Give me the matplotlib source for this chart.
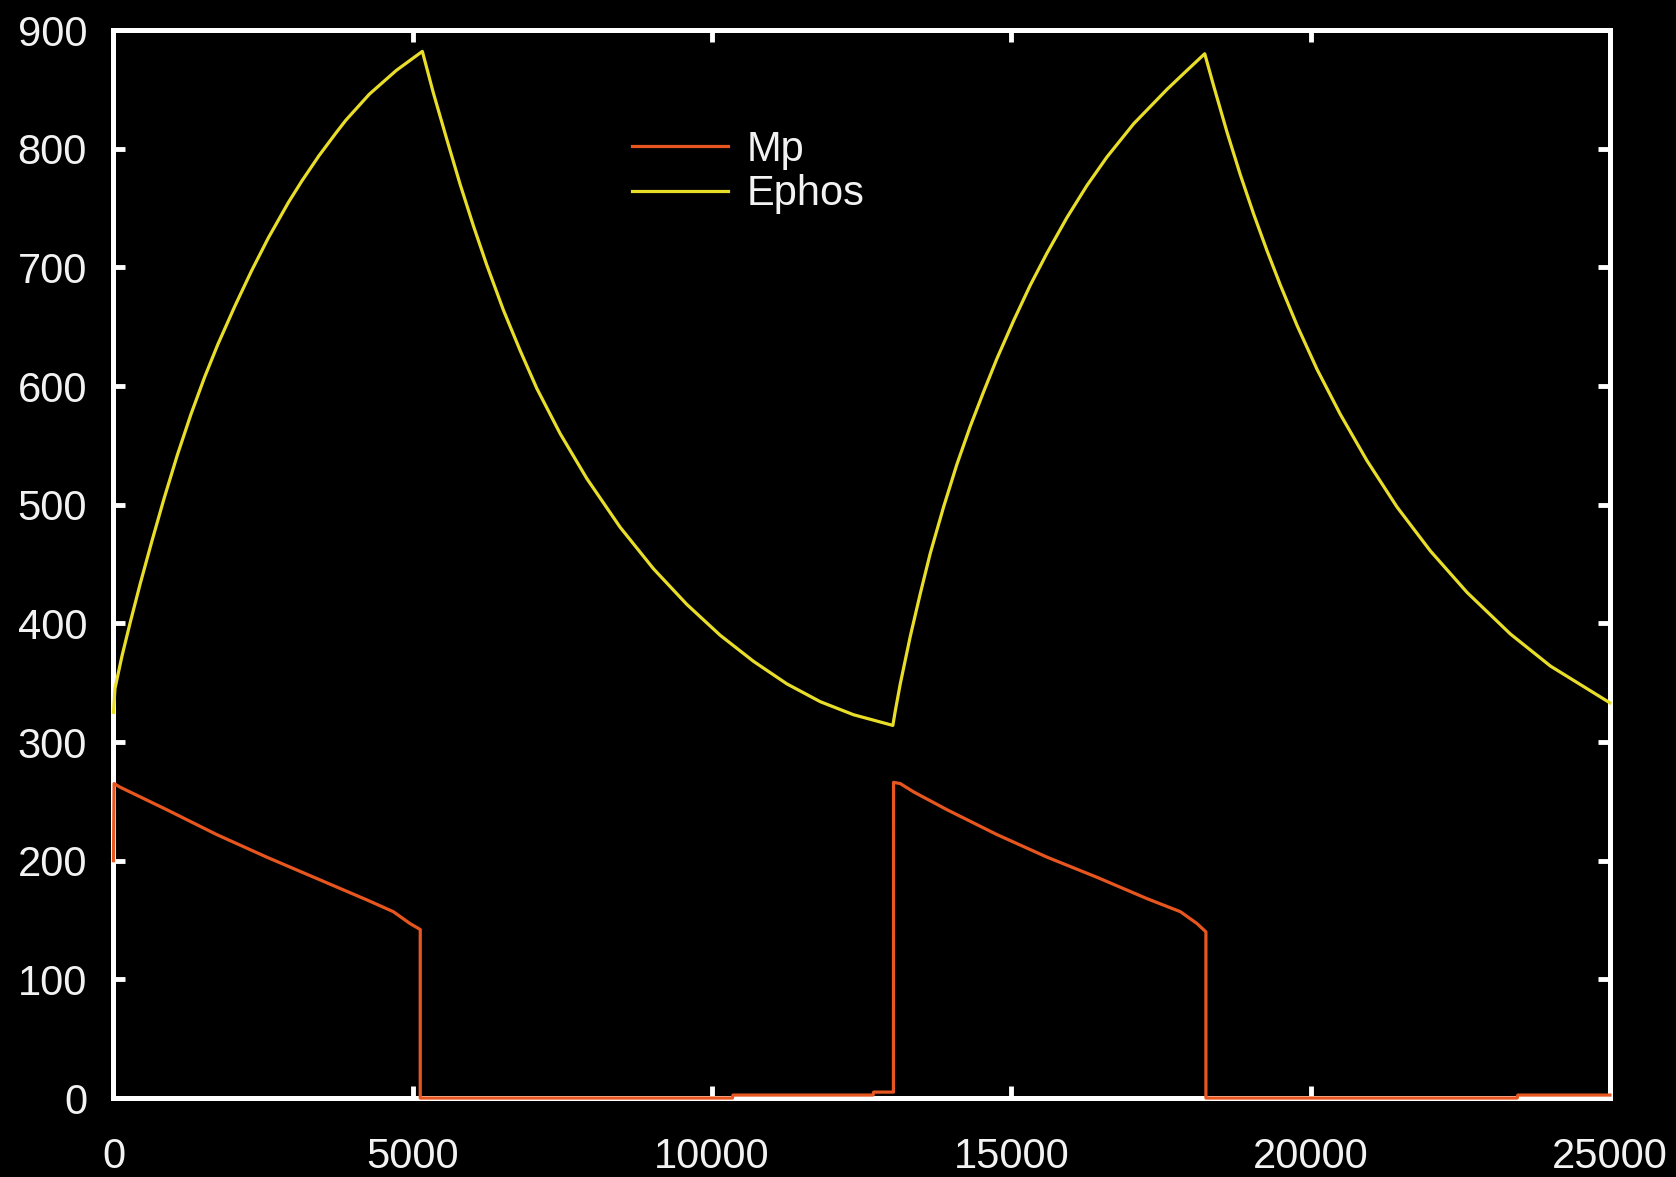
import matplotlib
matplotlib.use("Agg")
import matplotlib.pyplot as plt
from matplotlib.ticker import MultipleLocator

# Simulation output: time steps and the two traced quantities
t_mp = [0, 10, 109, 889, 1725, 2560, 3396, 4231, 4676, 4955, 5125, 5125,
        10340, 10350, 12690, 12700, 13030, 13032, 13143, 13366, 13923, 14759,
        15595, 16431, 17267, 17824, 18102, 18250, 18250, 23450, 23460, 25000]
mp = [200, 265, 262, 243, 222, 203, 185, 167, 157, 147, 142, 0,
      0, 2.5, 2.5, 5, 5, 266, 265, 258, 243, 222,
      203, 186, 168, 157, 147, 140, 0, 0, 2.5, 2.5]

t_ephos = [0, 25, 140, 281, 450, 646, 844, 1068, 1293, 1519, 1743, 2025,
           2306, 2589, 2926, 3150, 3432, 3713, 3882, 4276, 4726, 5160,
           5344, 5568, 5791, 6013, 6236, 6514, 6793, 7072, 7461, 7908, 8464,
           9021, 9578, 10135, 10692, 11250, 11807, 12363, 13020,
           13060, 13144, 13311, 13478, 13645, 13867, 14090, 14313, 14535,
           14758, 15037, 15316, 15595, 15929, 16263, 16597, 17043, 17600,
           17934, 18230,
           18379, 18602, 18825, 19047, 19271, 19494, 19773, 20107, 20497,
           20942, 21443, 22000, 22614, 23337, 24006, 25000]
ephos = [325, 345, 372, 401, 434, 470, 505, 542, 576, 607, 635, 667,
         697, 725, 755, 773, 794, 813, 824, 846, 866, 882,
         847, 808, 770, 735, 702, 664, 630, 598, 560, 522, 481,
         446, 416, 390, 368, 349, 334, 323, 314,
         326, 349, 389, 425, 459, 498, 534, 566, 595,
         623, 655, 685, 712, 742, 769, 793, 821, 850,
         866, 880,
         853, 814, 778, 745, 714, 685, 651, 614, 576,
         537, 498, 461, 426, 391, 364, 333]

x_ticks_step = 5000
y_ticks_step = 100

plt.rcParams['font.family'] = ['Liberation Sans', 'DejaVu Sans']

fig = plt.figure(figsize=(16.76, 11.77), dpi=100, facecolor="black")
ax = fig.add_axes([0.0677, 0.0671, 0.8929, 0.9074], facecolor="black")

ax.plot(t_mp, mp, color="#e8561f", lw=2.3, label="Mp", zorder=3, clip_on=False)
ax.plot(t_ephos, ephos, color="#e8de2a", lw=2.3, label="Ephos", zorder=3, clip_on=False)

ax.set_xlim(0, 25000)
ax.set_ylim(0, 900)
ax.xaxis.set_major_locator(MultipleLocator(x_ticks_step))
ax.yaxis.set_major_locator(MultipleLocator(y_ticks_step))

for s in ax.spines.values():
    s.set_color("white")
    s.set_linewidth(3.6)
    s.set_zorder(2)

ax.tick_params(axis="both", which="major", direction="in", length=8.5, width=3.5,
               color="white", labelcolor="#f2f2f2", labelsize=30,
               top=True, right=True)
ax.tick_params(axis="y", pad=19)
ax.tick_params(axis="x", pad=28)

leg = ax.legend(loc="upper left", bbox_to_anchor=(632 / 1676, 1 - 130 / 1177),
                bbox_transform=fig.transFigure, frameon=False, fontsize=30,
                handlelength=2.3, handletextpad=0.45, labelspacing=0.1,
                borderpad=0, borderaxespad=0)
for txt in leg.get_texts():
    txt.set_color("#f2f2f2")

fig.savefig("out.png", dpi=100, facecolor="black")
